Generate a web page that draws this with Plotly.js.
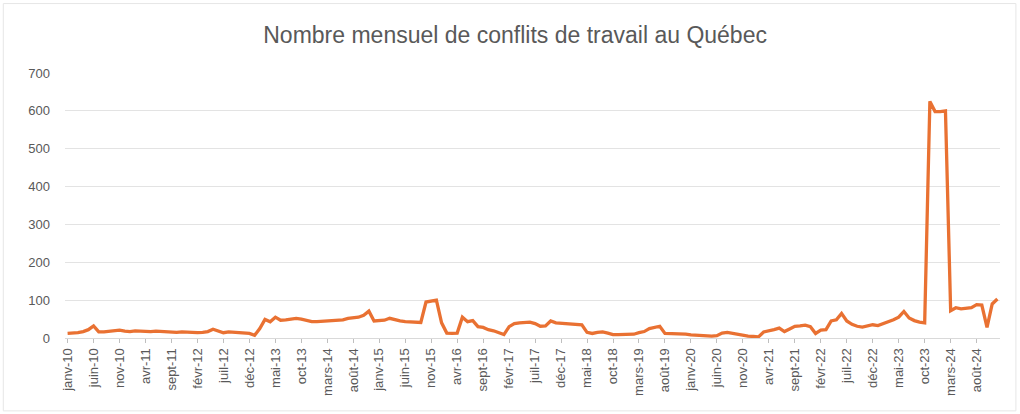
<!DOCTYPE html>
<html>
<head>
<meta charset="utf-8">
<script src="https://cdn.plot.ly/plotly-3.0.1.min.js"></script>
<style>html,body{margin:0;padding:0;background:#fff;}#chart{width:1020px;height:414px;}</style>
</head>
<body>
<div id="chart"></div>
<script>
// Category parts (month abbreviations and years as shown on the axis)
const monthNames = ["janv","févr","mars","avr","mai","juin","juil","août","sept","oct","nov","déc"];
const years = ["10","11","12","13","14","15","16","17","18","19","20","21","22","23","24"];

// Monthly number of labour conflicts, one row per year (janv..déc)
const v2010 = [12, 12, 14, 17, 22, 32, 16, 16, 17, 19, 21, 18];
const v2011 = [17, 19, 18, 18, 17, 18, 17, 16, 15, 15, 16, 15];
const v2012 = [15, 14, 15, 17, 23, 18, 14, 16, 15, 15, 14, 12];
const v2013 = [7, 25, 49, 43, 55, 47, 48, 50, 52, 50, 46, 43];
const v2014 = [43, 44, 45, 46, 45, 48, 52, 53, 55, 60, 71, 45];
const v2015 = [46, 47, 52, 48, 45, 43, 42, 40, 41, 95, 98, 100];
const v2016 = [40, 13, 12, 13, 55, 43, 46, 30, 28, 22, 19, 15];
const v2017 = [9, 30, 38, 40, 42, 42, 38, 31, 32, 45, 40, 39];
const v2018 = [39, 39, 38, 35, 15, 12, 15, 16, 13, 9, 9, 10];
const v2019 = [9, 10, 14, 17, 25, 29, 31, 12, 12, 12, 11, 10];
const v2020 = [8, 7, 6, 5, 5, 6, 13, 15, 12, 9, 8, 5];
const v2021 = [4, 3, 16, 18, 22, 26, 17, 24, 31, 32, 34, 30];
const v2022 = [12, 21, 22, 45, 48, 65, 45, 36, 31, 29, 32, 35];
const v2023 = [33, 38, 42, 48, 55, 70, 53, 46, 42, 40, 625, 598];
const v2024 = [598, 600, 72, 80, 77, 78, 80, 88, 87, 28, 90, 103];

const yearValues = [v2010, v2011, v2012, v2013, v2014, v2015, v2016, v2017, v2018, v2019, v2020, v2021, v2022, v2023, v2024];

// Build category labels and series from the arrays above
const categories = [];
const values = [];
years.forEach((yy, i) => {
  monthNames.forEach((mn, j) => {
    categories.push(mn + "-" + yy);
    values.push(yearValues[i][j]);
  });
});
const tickCats = categories.filter((c, i) => i % 5 === 0);

const grey = "#595959";
const trace = {
  x: categories,
  y: values,
  type: "scatter",
  mode: "lines",
  line: {color: "#E97132", width: 3.3},
  hoverinfo: "x+y"
};

const layout = {
  width: 1020,
  height: 414,
  margin: {l: 65, r: 20, t: 73, b: 76},
  paper_bgcolor: "#ffffff",
  plot_bgcolor: "#ffffff",
  showlegend: false,
  title: {
    text: "Nombre mensuel de conflits de travail au Québec",
    font: {family: "Liberation Sans, Arial, sans-serif", size: 23, color: grey},
    x: 0.505, xanchor: "center", y: 0.915, yanchor: "middle"
  },
  xaxis: {
    type: "category",
    range: [-0.5, categories.length - 0.5],
    tickmode: "array",
    tickvals: tickCats,
    ticktext: tickCats,
    tickangle: -90,
    ticks: "outside",
    ticklen: 4,
    tickcolor: "#bfbfbf",
    showgrid: false,
    showline: true,
    linecolor: "#d9d9d9",
    linewidth: 1,
    zeroline: false,
    tickfont: {family: "Liberation Sans, Arial, sans-serif", size: 13, color: grey},
    fixedrange: true
  },
  yaxis: {
    range: [0, 700],
    tickmode: "array",
    tickvals: [0, 100, 200, 300, 400, 500, 600, 700],
    showgrid: true,
    gridcolor: "#e3e3e3",
    gridwidth: 1,
    zeroline: false,
    showline: false,
    ticks: "",
    ticklabelstandoff: 14,
    tickfont: {family: "Liberation Sans, Arial, sans-serif", size: 13, color: grey},
    fixedrange: true
  },
  shapes: [{
    type: "rect", xref: "paper", yref: "paper",
    x0: -0.066, x1: 1.017, y0: -0.275, y1: 1.262,
    line: {color: "#e6e6e6", width: 1}, fillcolor: "rgba(0,0,0,0)", layer: "below"
  }]
};

Plotly.newPlot("chart", [trace], layout, {displayModeBar: false, staticPlot: true});
</script>
</body>
</html>
